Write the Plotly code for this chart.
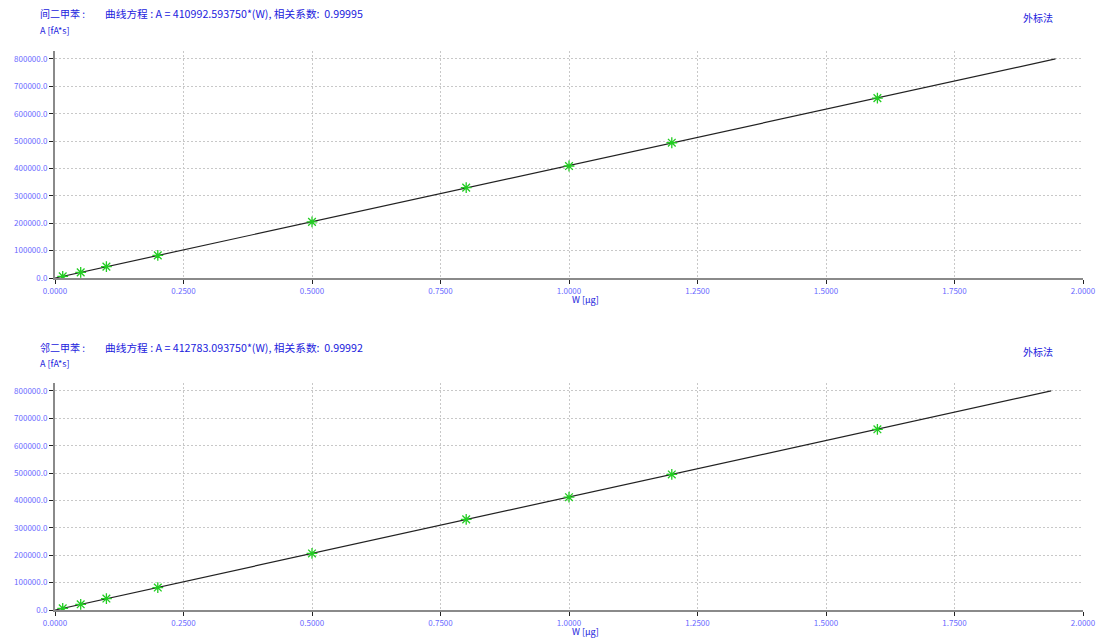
import plotly.graph_objects as go

# ---- data ----
compounds = ["间二甲苯", "邻二甲苯"]
slopes = [410992.593750, 412783.093750]
r_values = ["0.99995", "0.99992"]

amount_ug = [0.015, 0.05, 0.1, 0.2, 0.5, 0.8, 1.0, 1.2, 1.6]
area_m_xylene = [6000, 20500, 41500, 82500, 205000, 330000, 409000, 494000, 657000]
area_o_xylene = [6200, 20800, 41800, 82000, 206500, 331000, 412000, 495000, 660000]
line_top = 800000

x_ticks = [0, 0.25, 0.5, 0.75, 1.0, 1.25, 1.5, 1.75, 2.0]
y_ticks = [0, 100000, 200000, 300000, 400000, 500000, 600000, 700000, 800000]

W, H = 1100, 640
FONT = "Noto Sans CJK SC"
TITLE_C = "#2222dd"
TICK_C = "#6a6aff"

def py(p):
    return 1 - p / H

fig = go.Figure()

panels = [
    dict(area=area_m_xylene, xa="x", ya="y", dom=[py(278), py(51)], ty=14, ay=30, my=18, wy=299),
    dict(area=area_o_xylene, xa="x2", ya="y2", dom=[py(610), py(383)], ty=347, ay=363, my=351, wy=631),
]

for i, p in enumerate(panels):
    s = slopes[i]
    xe = line_top / s
    fig.add_trace(go.Scatter(x=[0, xe], y=[0, s * xe], mode="lines",
                             line=dict(color="#222222", width=1.2),
                             xaxis=p["xa"], yaxis=p["ya"], showlegend=False, hoverinfo="skip"))
    fig.add_trace(go.Scatter(x=amount_ug, y=p["area"], mode="markers",
                             marker=dict(symbol="asterisk", size=9,
                                         line=dict(color="#22cc22", width=1.3)),
                             xaxis=p["xa"], yaxis=p["ya"], showlegend=False))
    sfx = "" if i == 0 else "2"
    fig.update_layout(**{
        "xaxis" + sfx: dict(domain=[55 / W, 1083 / W], range=[0, 2.0], anchor="y" + sfx,
                            tickvals=x_ticks, tickformat=".4f", automargin=False,
                            showgrid=True, gridcolor="#c8c8c8", griddash="2px,2px", gridwidth=1,
                            showline=True, linecolor="#8a8a8a", linewidth=2,
                            ticks="outside", ticklen=4, tickcolor="#222222",
                            tickfont=dict(family=FONT, size=8, color=TICK_C),
                            zeroline=False, fixedrange=True),
        "yaxis" + sfx: dict(domain=p["dom"], range=[0, 829000], anchor="x" + sfx,
                            tickvals=y_ticks, tickformat=".1f", automargin=False,
                            showgrid=True, gridcolor="#c8c8c8", griddash="2px,2px", gridwidth=1,
                            showline=True, linecolor="#8a8a8a", linewidth=2,
                            ticks="outside", ticklen=4, tickcolor="#222222",
                            tickfont=dict(family=FONT, size=8, color=TICK_C),
                            zeroline=False, fixedrange=True),
    })
    ann = dict(xref="paper", yref="paper", showarrow=False, xanchor="left", yanchor="middle",
               font=dict(family=FONT, size=10, color=TITLE_C))
    fig.add_annotation(x=38 / W, y=py(p["ty"]), text=compounds[i] + " :", **ann)
    fig.add_annotation(x=103 / W, y=py(p["ty"]),
                       text="曲线方程 : A = %.6f*(W), 相关系数:  %s" % (s, r_values[i]),
                       **{**ann, "font": dict(family=FONT, size=10.7, color=TITLE_C)})
    fig.add_annotation(x=38 / W, y=py(p["ay"]), text="A [fA*s]", **{**ann, "font": dict(family=FONT, size=9, color=TITLE_C)})
    fig.add_annotation(x=1021 / W, y=py(p["my"]), text="外标法", **ann)
    fig.add_annotation(x=570 / W, y=py(p["wy"]), text="W [μg]", **{**ann, "font": dict(family=FONT, size=9, color=TITLE_C)})

fig.update_layout(width=W, height=H, margin=dict(l=0, r=0, t=0, b=0),
                  paper_bgcolor="white", plot_bgcolor="white")
fig.write_html("out.html", config={"displayModeBar": False},
               post_script="document.body.style.margin='0';document.body.style.overflow='hidden';")
